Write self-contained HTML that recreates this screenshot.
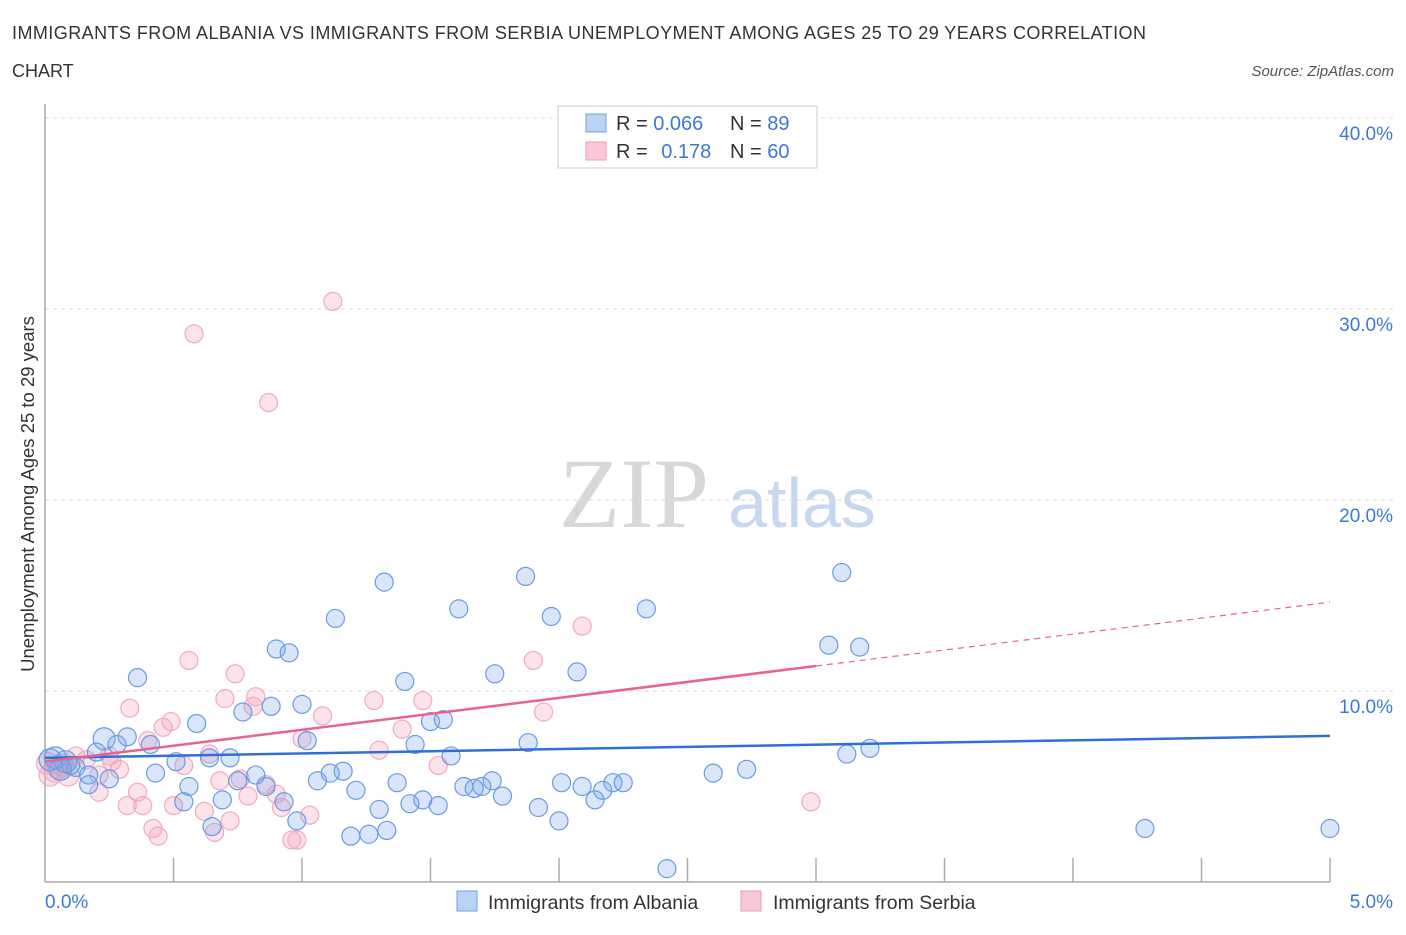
<!DOCTYPE html>
<html><head><meta charset="utf-8"><style>
body{margin:0;background:#fff;font-family:"Liberation Sans",sans-serif;}
</style></head><body>
<svg id="chart" width="1406" height="930" viewBox="0 0 1406 930" xmlns="http://www.w3.org/2000/svg" font-family="Liberation Sans, sans-serif">
<text x="12" y="39" font-size="18" fill="#333" textLength="1134">IMMIGRANTS FROM ALBANIA VS IMMIGRANTS FROM SERBIA UNEMPLOYMENT AMONG AGES 25 TO 29 YEARS CORRELATION</text>
<text x="12" y="77" font-size="18" fill="#333">CHART</text>
<text x="1394" y="76" font-size="15" fill="#555" text-anchor="end" font-style="italic">Source: ZipAtlas.com</text>
<g>
<text x="634" y="527" font-size="100" fill="#d8d8d8" font-family="Liberation Serif, serif" text-anchor="middle">ZIP</text>
<text x="802" y="527" font-size="70" fill="#c5d8f0" text-anchor="middle">atlas</text>
</g>
<g id="grid"></g>
<g id="axes"></g>
<g id="points"></g>
<g id="lines"></g>
<g>
<rect x="558" y="106" width="259" height="62" fill="#fff" stroke="#ccc"/>
<rect x="586" y="114" width="20" height="18" fill="#b9d3f5" stroke="#6f9fe0"/>
<rect x="586" y="142" width="20" height="18" fill="#f9c8d7" stroke="#ef9ab5"/>
<text x="616" y="130" font-size="20" fill="#333">R = <tspan fill="#3c78d8">0.066</tspan></text>
<text x="730" y="130" font-size="20" fill="#333">N = <tspan fill="#3c78d8">89</tspan></text>
<text x="616" y="158" font-size="20" fill="#333">R = <tspan fill="#3c78d8" dx="8">0.178</tspan></text>
<text x="730" y="158" font-size="20" fill="#333">N = <tspan fill="#3c78d8">60</tspan></text>
</g>
<g>
<rect x="457" y="891" width="20" height="20" fill="#b9d3f5" stroke="#6f9fe0"/>
<text x="488" y="909" font-size="19.5" fill="#333">Immigrants from Albania</text>
<rect x="741" y="891" width="20" height="20" fill="#f9c8d7" stroke="#ef9ab5"/>
<text x="773" y="909" font-size="19.5" fill="#333">Immigrants from Serbia</text>
</g>
<text transform="translate(34,494) rotate(-90)" font-size="18.5" fill="#333" text-anchor="middle">Unemployment Among Ages 25 to 29 years</text>
</svg>
<script>
const yTicks=[10,20,30,40];
const yTickLabels=["10.0%","20.0%","30.0%","40.0%"];
const xTickLabels=["0.0%","5.0%"];
const albaniaX=[0.36,0.59,0.23,0.32,0.28,0.41,0.20,0.04,0.08,0.12,0.17,0.25,0.17,0.43,0.51,0.56,0.54,0.65,0.69,0.64,0.72,0.77,0.88,0.90,0.95,1.00,1.02,0.82,0.75,0.86,0.93,0.98,1.06,1.11,1.16,1.21,1.13,1.32,1.40,1.44,1.50,1.55,1.58,1.37,1.30,1.42,1.47,1.53,1.19,1.26,1.33,1.61,1.75,1.87,1.88,1.63,1.67,1.70,1.74,1.78,1.92,2.00,1.97,2.07,2.01,2.09,2.14,2.17,2.21,2.25,2.34,2.42,2.60,2.73,3.05,3.10,3.17,3.12,3.21,4.28,5.00,0.02,0.06,0.10];
const albaniaY=[10.7,8.3,7.5,7.6,7.2,7.2,6.8,6.5,6.3,6.0,5.6,5.4,5.1,5.7,6.3,5.0,4.2,2.9,4.3,6.5,6.5,8.9,9.2,12.2,12.0,9.3,7.4,5.6,5.3,5.0,4.2,3.2,5.3,5.7,5.8,4.8,13.8,15.7,10.5,7.2,8.4,8.5,6.6,5.2,3.8,4.1,4.3,4.0,2.4,2.5,2.7,14.3,10.9,16.0,7.3,5.0,4.9,5.0,5.3,4.5,3.9,3.2,13.9,11.0,5.2,5.0,4.3,4.8,5.2,5.2,14.3,0.7,5.7,5.9,12.4,16.2,12.3,6.7,7.0,2.8,2.8,6.4,5.9,6.1];
const serbiaX=[1.12,0.58,0.87,0.56,0.74,2.09,1.90,0.70,0.82,0.81,0.33,0.49,0.46,1.08,1.28,1.47,1.39,1.94,1.00,0.40,1.30,0.64,1.53,0.54,0.29,0.12,0.16,0.04,0.07,0.21,0.25,0.26,0.68,0.76,0.86,0.79,0.36,0.21,0.32,0.38,0.50,0.62,0.72,0.92,1.03,0.42,0.44,0.66,0.96,0.98,2.98,0.90,0.02,0.09,0.01,0.05];
const serbiaY=[30.4,28.7,25.1,11.6,10.9,13.4,11.6,9.6,9.7,9.2,9.1,8.4,8.1,8.7,9.5,9.5,8.0,8.9,7.5,7.4,6.9,6.7,6.1,6.1,5.9,6.6,6.4,5.8,6.1,5.6,6.6,6.3,5.3,5.4,5.1,4.5,4.7,4.7,4.0,4.0,4.0,3.7,3.2,3.9,3.5,2.8,2.4,2.6,2.2,2.2,4.2,4.6,5.6,5.6,6.2,6.0];
const albaniaTrend=[6.5,0.23];
const serbiaTrend=[6.3,1.67];
const serbiaSolidEnd=3.0;
const X0=45,X1=1330,Y0=882,YPER=19.1;
const sx=v=>X0+(X1-X0)*v/5;
const sy=v=>Y0-v*YPER;
const NS="http://www.w3.org/2000/svg";
function mk(tag,attrs,parent){const e=document.createElementNS(NS,tag);for(const k in attrs)e.setAttribute(k,attrs[k]);parent.appendChild(e);return e;}
const grid=document.getElementById('grid'),axes=document.getElementById('axes'),pts=document.getElementById('points'),lines=document.getElementById('lines');
yTicks.forEach((t,i)=>{
 const l=mk('line',{x1:X0,x2:1394,y1:sy(t),y2:sy(t),stroke:'#ddd','stroke-dasharray':'4,4'},grid);
 
 
 const tx=mk('text',{x:1393,y:sy(t)+22,'font-size':19,fill:'#3c78d8','text-anchor':'end'},axes);
 tx.textContent=yTickLabels[i];
 
 
});
const ax=mk('line',{x1:X0,x2:X0,y1:104,y2:Y0,stroke:'#aaa','stroke-width':1.5},axes);


const bx=mk('line',{x1:X0,x2:X1,y1:Y0,y2:Y0,stroke:'#aaa','stroke-width':1.5},axes);


for(let i=1;i<=10;i++){
 const tk=mk('line',{x1:sx(i*0.5),x2:sx(i*0.5),y1:Y0-24,y2:Y0,stroke:'#aaa','stroke-width':1.5},axes);
 
 
}
[[0,'start',X0],[1,'end',1393]].forEach(([i,a,x])=>{
 const t=mk('text',{x:x,y:908,'font-size':19,fill:'#3c78d8','text-anchor':a},axes);
 t.textContent=xTickLabels[i];
 
 
});
serbiaX.forEach((x,i)=>{
 const c=mk('circle',{cx:sx(x),cy:sy(serbiaY[i]),r:x<0.1?11:9,fill:'rgba(244,160,185,0.3)',stroke:'#f2aac0','stroke-width':1.2},pts);
 
 
});
albaniaX.forEach((x,i)=>{
 const c=mk('circle',{cx:sx(x),cy:sy(albaniaY[i]),r:x<0.1?11:(x>0.2&&x<0.25?11:9),fill:'rgba(120,165,235,0.28)',stroke:'#6a9be2','stroke-width':1.2},pts);
 
 
});
const bl=mk('line',{x1:sx(0),y1:sy(albaniaTrend[0]),x2:sx(5),y2:sy(albaniaTrend[0]+5*albaniaTrend[1]),stroke:'#2f6fd6','stroke-width':2.5},lines);


const pl=mk('line',{x1:sx(0),y1:sy(serbiaTrend[0]),x2:sx(serbiaSolidEnd),y2:sy(serbiaTrend[0]+serbiaSolidEnd*serbiaTrend[1]),stroke:'#e8638f','stroke-width':2.5},lines);


const pd=mk('line',{x1:sx(serbiaSolidEnd),y1:sy(serbiaTrend[0]+serbiaSolidEnd*serbiaTrend[1]),x2:sx(5),y2:sy(serbiaTrend[0]+5*serbiaTrend[1]),stroke:'#e8638f','stroke-width':1.2,'stroke-dasharray':'6,5'},lines);


</script>
</body></html>
